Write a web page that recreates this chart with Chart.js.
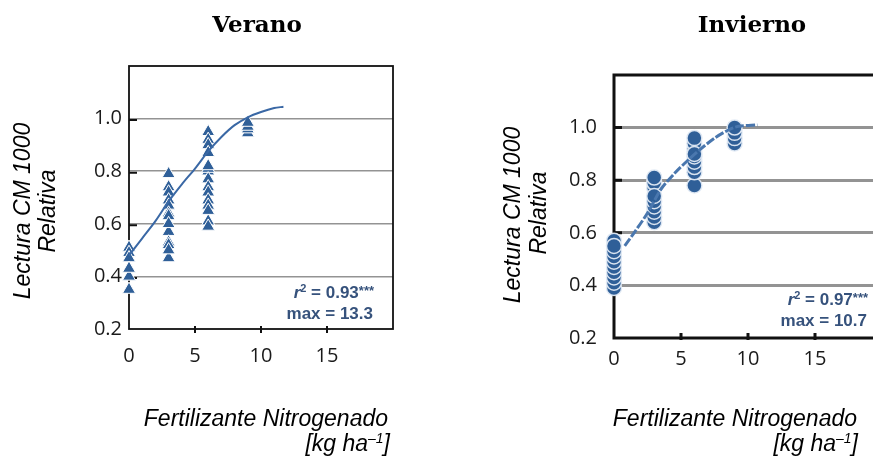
<!DOCTYPE html>
<html>
<head>
<meta charset="utf-8">
<script src="https://cdn.jsdelivr.net/npm/chart.js@4/dist/chart.umd.min.js"></script>
<style>
  html, body { margin: 0; padding: 0; background: #fff; overflow: hidden; width: 873px; height: 456px; }
  #wrapL { position: absolute; left: 0; top: 0; width: 440px; height: 456px; }
  #wrapR { position: absolute; left: 440px; top: 0; width: 460px; height: 456px; }
</style>
</head>
<body>
<div id="wrapL"><canvas id="verano" width="440" height="456"></canvas></div>
<div id="wrapR"><canvas id="invierno" width="460" height="456"></canvas></div>
<script>
// Axis tick labels
const xTickLabels = ['0', '5', '10', '15'];
const yTickLabels = ['0.2', '0.4', '0.6', '0.8', '1.0'];

// Nitrogen doses (kg/ha)
const doses = [0, 3, 6, 9];

// Relative CM 1000 readings, summer, one list per dose (drawing order)
const veranoDose0 = [0.51, 0.49, 0.47, 0.40, 0.43, 0.35];
const veranoDose3 = [0.79, 0.74, 0.72, 0.69, 0.67, 0.64, 0.63, 0.57, 0.60, 0.53, 0.52, 0.47, 0.50];
const veranoDose6 = [0.95, 0.92, 0.90, 0.80, 0.81, 0.82, 0.87, 0.77, 0.74, 0.72, 0.69, 0.67, 0.61, 0.65, 0.59];
const veranoDose9 = [0.945, 0.96, 0.97, 0.985];

// Relative CM 1000 readings, winter
const inviernoDose0 = [0.39, 0.41, 0.43, 0.45, 0.47, 0.49, 0.51, 0.53, 0.57, 0.55];
const inviernoDose3 = [0.64, 0.66, 0.68, 0.70, 0.72, 0.77, 0.79, 0.81, 0.74];
const inviernoDose6 = [0.78, 0.83, 0.85, 0.87, 0.89, 0.92, 0.94, 0.96, 0.90];
const inviernoDose9 = [0.94, 0.96, 0.98, 1.00];

// Fitted response curves
const veranoFitX = [0, 1, 2, 3, 4, 5, 6, 7, 8, 9, 10, 11, 11.7];
const veranoFitY = [0.48, 0.545, 0.61, 0.685, 0.75, 0.81, 0.875, 0.93, 0.975, 1.005, 1.025, 1.04, 1.045];
const inviernoFitX = [0.8, 1.5, 2.5, 3.5, 4.5, 5.5, 6.5, 7.5, 8.5, 9.3, 10.7];
const inviernoFitY = [0.55, 0.60, 0.675, 0.765, 0.825, 0.875, 0.92, 0.96, 0.99, 1.005, 1.01];

// Fit statistics
const statR2 = ['0.93', '0.97'];
const statMax = ['13.3', '10.7'];

const MARK = '#2f5f98';
const STAT = '#36527c';
const TITLE_FONT = 'italic 23px "Liberation Sans"';

function stackPoints(lists) {
  const pts = [];
  lists.forEach((vals, i) => vals.forEach(v => pts.push({ x: doses[i], y: v })));
  return pts;
}
function curve(xs, ys) { return xs.map((x, i) => ({ x, y: ys[i] })); }

function drawRuns(ctx, runs, xRight, base) {
  let w = 0;
  runs.forEach(r => { ctx.font = r.font; w += ctx.measureText(r.t).width; });
  let x = xRight - w;
  runs.forEach(r => {
    ctx.font = r.font;
    ctx.fillText(r.t, x, base - (r.raise || 0));
    x += ctx.measureText(r.t).width;
  });
}

const decor = {
  id: 'decor',
  beforeDatasetsDraw(chart, args, o) {
    const { ctx, chartArea: a, scales: { x, y } } = chart;
    ctx.save();
    ctx.strokeStyle = '#111';
    ctx.lineWidth = o.frameWidth;
    ctx.strokeRect(a.left, a.top, a.right - a.left, a.bottom - a.top);
    ctx.lineWidth = o.tickWidth;
    ctx.beginPath();
    xTickLabels.map(Number).filter(v => v > 0).forEach(v => {
      const px = x.getPixelForValue(v);
      ctx.moveTo(px, a.bottom - o.xTickUp);
      ctx.lineTo(px, a.bottom + o.xTickDown);
    });
    yTickLabels.map(Number).filter(v => v > 0.2).forEach(v => {
      const py = y.getPixelForValue(v) + o.yTickShift;
      ctx.moveTo(a.left, py);
      ctx.lineTo(a.left + o.yTickLen, py);
    });
    ctx.stroke();
    ctx.restore();
  },
  afterDraw(chart, args, o) {
    const { ctx } = chart;
    ctx.save();
    ctx.fillStyle = '#000';
    // main title
    ctx.font = 'bold 23px "DejaVu Serif"';
    ctx.textAlign = 'center';
    ctx.textBaseline = 'alphabetic';
    ctx.fillText(o.title, o.titleX, o.titleY);
    // vertical axis title, two lines
    ctx.font = TITLE_FONT;
    o.yTitle.forEach(l => {
      ctx.save();
      ctx.translate(l.x, l.y);
      ctx.rotate(-Math.PI / 2);
      ctx.textAlign = 'center';
      ctx.fillText(l.t, 0, 0);
      ctx.restore();
    });
    // horizontal axis title
    ctx.textAlign = 'left';
    drawRuns(ctx, [{ t: 'Fertilizante Nitrogenado', font: TITLE_FONT }], o.xTitleRight, o.xTitleY);
    drawRuns(ctx, [
      { t: '[kg ha', font: TITLE_FONT },
      { t: '\u20131', font: 'italic 14px "Liberation Sans"', raise: 8 },
      { t: ']', font: TITLE_FONT }
    ], o.unitRight, o.unitY);
    // fit statistics
    ctx.fillStyle = STAT;
    drawRuns(ctx, [
      { t: 'r', font: 'italic bold 17px "Liberation Sans"' },
      { t: '2', font: 'bold 11px "Liberation Sans"', raise: 6 },
      { t: ' = ' + o.r2, font: 'bold 17px "Liberation Sans"' },
      { t: '***', font: 'bold 13px "Liberation Sans"', raise: 3 }
    ], o.statRight, o.statY1);
    drawRuns(ctx, [{ t: 'max = ' + o.max, font: 'bold 17px "Liberation Sans"' }], o.statRight - 1, o.statY2);
    ctx.restore();
  }
};

function makeChart(id, cfg) {
  const tickFont = { family: '"Open Sans"', size: 20 };
  return new Chart(document.getElementById(id), {
    type: 'scatter',
    data: {
      datasets: [
        {
          type: 'line',
          data: cfg.fit,
          borderColor: cfg.fitColor,
          borderWidth: cfg.fitWidth,
          borderDash: cfg.fitDash,
          pointRadius: 0,
          tension: 0.3,
          fill: false,
          clip: false
        },
        {
          data: cfg.points,
          pointStyle: cfg.marker,
          pointRadius: cfg.radius,
          backgroundColor: MARK,
          borderColor: cfg.markBorder,
          borderWidth: cfg.markBorderWidth,
          clip: false
        }
      ]
    },
    options: {
      responsive: false,
      animation: false,
      devicePixelRatio: 1,
      layout: { padding: cfg.padding },
      plugins: {
        legend: { display: false },
        tooltip: { enabled: false },
        decor: cfg.decor
      },
      scales: {
        x: {
          type: 'linear', min: 0, max: 20,
          afterFit: s => { s.height = cfg.xHeight; },
          border: { display: false },
          grid: { display: false, drawTicks: false },
          ticks: {
            stepSize: 5, autoSkip: false, maxRotation: 0, padding: cfg.xPad,
            font: tickFont, color: '#1a1a1a',
            callback: (v, i) => (i < xTickLabels.length ? xTickLabels[i] : '')
          }
        },
        y: {
          type: 'linear', min: 0.2, max: 1.2,
          afterFit: s => { s.width = cfg.yWidth; },
          border: { display: false },
          grid: {
            drawTicks: false,
            lineWidth: cfg.gridWidth,
            color: c => (c.tick && c.tick.value > 0.3 && c.tick.value < 1.1) ? '#939393' : 'rgba(0,0,0,0)'
          },
          ticks: {
            stepSize: 0.2, autoSkip: false, padding: cfg.yPad,
            font: tickFont, color: '#1a1a1a',
            callback: (v, i) => (i < yTickLabels.length ? yTickLabels[i] : '')
          }
        }
      }
    },
    plugins: [decor]
  });
}

makeChart('verano', {
  points: stackPoints([veranoDose0, veranoDose3, veranoDose6, veranoDose9]),
  fit: curve(veranoFitX, veranoFitY),
  fitColor: '#3a68a5', fitWidth: 2, fitDash: [],
  marker: 'triangle', radius: 7.5, markBorder: '#ffffff', markBorderWidth: 1,
  padding: { left: 0, right: 47, top: 66, bottom: 0 },
  xHeight: 127, yWidth: 129, xPad: 15, yPad: 7, gridWidth: 1.6,
  decor: {
    frameWidth: 1.8, tickWidth: 2, xTickUp: 3, xTickDown: 4, yTickShift: 1.5, yTickLen: 8,
    title: 'Verano', titleX: 257, titleY: 32,
    yTitle: [{ t: 'Lectura CM 1000', x: 30, y: 211 }, { t: 'Relativa', x: 55, y: 211 }],
    xTitleRight: 388, xTitleY: 426, unitRight: 390, unitY: 451,
    r2: statR2[0], max: statMax[0], statRight: 374, statY1: 298, statY2: 319
  }
});

makeChart('invierno', {
  points: stackPoints([inviernoDose0, inviernoDose3, inviernoDose6, inviernoDose9]),
  fit: curve(inviernoFitX, inviernoFitY),
  fitColor: '#4a77ae', fitWidth: 3, fitDash: [9, 2],
  marker: 'circle', radius: 7.5, markBorder: 'rgba(226,234,244,0.95)', markBorderWidth: 1.5,
  padding: { left: 0, right: 18, top: 75, bottom: 0 },
  xHeight: 118, yWidth: 174, xPad: 9, yPad: 17, gridWidth: 3,
  decor: {
    frameWidth: 3, tickWidth: 3, xTickUp: 5, xTickDown: 2, yTickShift: 0, yTickLen: 8,
    title: 'Invierno', titleX: 312, titleY: 32,
    yTitle: [{ t: 'Lectura CM 1000', x: 80, y: 215 }, { t: 'Relativa', x: 106, y: 213 }],
    xTitleRight: 417, xTitleY: 426, unitRight: 418, unitY: 451,
    r2: statR2[1], max: statMax[1], statRight: 428, statY1: 305, statY2: 326
  }
});
</script>
</body>
</html>
